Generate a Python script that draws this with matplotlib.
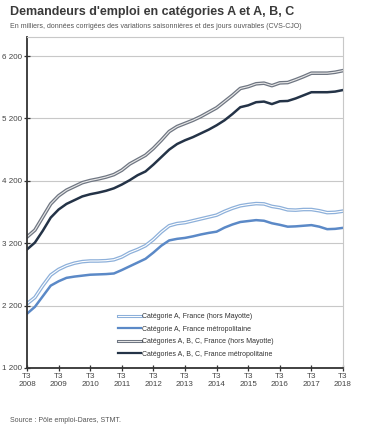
import matplotlib
matplotlib.use("Agg")
import matplotlib.pyplot as plt
import numpy as np
import matplotlib.patheffects as pe

plt.rcParams['font.family'] = ['Liberation Sans', 'DejaVu Sans']

years = list(range(2008, 2019))
tick_labels = [f"T3\n{y}" for y in years]

cat_a_fr = [2230, 2330, 2520, 2690, 2780, 2840, 2880, 2905, 2915, 2915, 2920, 2935, 2980, 3050, 3100,
            3160, 3260, 3380, 3480, 3515, 3530, 3560, 3590, 3620, 3650, 3710, 3760, 3800, 3820, 3835,
            3830, 3790, 3770, 3735, 3730, 3740, 3740, 3720, 3690, 3695, 3714]
cat_a_metro = [2070, 2180, 2350, 2520, 2590, 2645, 2665, 2680, 2695, 2700, 2705, 2715, 2770, 2830, 2890,
               2950, 3050, 3160, 3245, 3270, 3285, 3310, 3340, 3365, 3385, 3450, 3500, 3540, 3555, 3570,
               3560, 3520, 3495, 3465, 3470, 3480, 3490, 3465, 3425, 3430, 3446]
cat_abc_fr = [3300, 3410, 3620, 3830, 3960, 4050, 4110, 4170, 4205, 4230, 4260, 4300, 4370, 4470, 4540,
              4610, 4720, 4850, 4990, 5070, 5120, 5170, 5230, 5300, 5370, 5470, 5570, 5680, 5710, 5755,
              5765, 5725, 5770, 5775, 5820, 5870, 5925, 5925, 5925, 5940, 5966]
cat_abc_metro = [3100, 3210, 3400, 3610, 3740, 3830, 3890, 3950, 3985, 4010, 4040, 4080, 4140, 4210, 4290,
                 4350, 4460, 4580, 4700, 4790, 4850, 4900, 4960, 5020, 5090, 5170, 5270, 5380, 5410, 5460,
                 5470, 5430, 5475, 5480, 5520, 5570, 5620, 5620, 5620, 5630, 5655]

labels = ["Catégorie A, France (hors Mayotte)",
          "Catégorie A, France métropolitaine",
          "Catégories A, B, C, France (hors Mayotte)",
          "Catégories A, B, C, France métropolitaine"]

yticks = [1200, 2200, 3200, 4200, 5200, 6200]

x = 2008.5 + np.arange(len(cat_a_fr)) * 0.25

fig = plt.figure(figsize=(3.77, 4.42), dpi=100)
ax = fig.add_axes([27/377, 1-368/442, (343-27)/377, (368-37)/442])

c_light = '#8db0da'
c_med = '#5b89c7'
c_gray = '#6f7682'
c_dark = '#243347'

hollow_light = [pe.Stroke(linewidth=2.6, foreground=c_light), pe.Stroke(linewidth=0.8, foreground='white')]
hollow_gray = [pe.Stroke(linewidth=2.6, foreground=c_gray), pe.Stroke(linewidth=0.8, foreground='#e8e8e8')]

ax.plot(x, cat_a_fr, color=c_light, lw=2.6, path_effects=hollow_light, label=labels[0])
ax.plot(x, cat_a_metro, color=c_med, lw=1.8, label=labels[1])
ax.plot(x, cat_abc_fr, color=c_gray, lw=2.6, path_effects=hollow_gray, label=labels[2])
ax.plot(x, cat_abc_metro, color=c_dark, lw=1.8, label=labels[3])

ax.set_xlim(2008.5, 2018.5)
ax.set_ylim(1200, 6505)
ax.set_yticks(yticks)
ax.set_yticklabels([f"{v:,}".replace(",", " ") for v in yticks])
ax.set_xticks([y + 0.5 for y in years])
ax.set_xticklabels(tick_labels)
ax.grid(axis='y', color='#c8c8c8', lw=0.8)
ax.set_axisbelow(True)
for s in ['top', 'right']:
    ax.spines[s].set_color('#c8c8c8')
    ax.spines[s].set_linewidth(0.8)
for s in ['left', 'bottom']:
    ax.spines[s].set_color('#333333')
    ax.spines[s].set_linewidth(1.3)
ax.tick_params(axis='both', labelsize=5.8, labelcolor='#444444', color='#333333', direction='inout',
               length=4, width=0.9, pad=1.5)

leg = ax.legend(loc='upper left', bbox_to_anchor=(112/377, 1-307/442), bbox_transform=fig.transFigure,
                frameon=False, fontsize=5, handlelength=3.3, handletextpad=0.1, labelspacing=0.8,
                labelcolor='#333333')
hl = leg.legend_handles
hl[0].set_linewidth(2.2)
hl[0].set_path_effects([pe.Stroke(linewidth=2.2, foreground=c_light), pe.Stroke(linewidth=0.7, foreground='white')])
hl[1].set_linewidth(1.6)
hl[2].set_linewidth(2.2)
hl[2].set_path_effects([pe.Stroke(linewidth=2.2, foreground=c_gray), pe.Stroke(linewidth=0.7, foreground='#e8e8e8')])
hl[3].set_linewidth(1.6)

fig.text(10/377, 1-12/442, "Demandeurs d'emploi en catégories A et A, B, C", fontsize=9, fontweight='bold',
         color='#3a3a3a', va='center', ha='left')
fig.text(10/377, 1-26/442, "En milliers, données corrigées des variations saisonnières et des jours ouvrables (CVS-CJO)",
         fontsize=5, color='#555555', va='center', ha='left')
fig.text(10/377, 1-421/442, "Source : Pôle emploi-Dares, STMT.", fontsize=5, color='#555555', va='center', ha='left')

fig.savefig("out.png", dpi=100)
